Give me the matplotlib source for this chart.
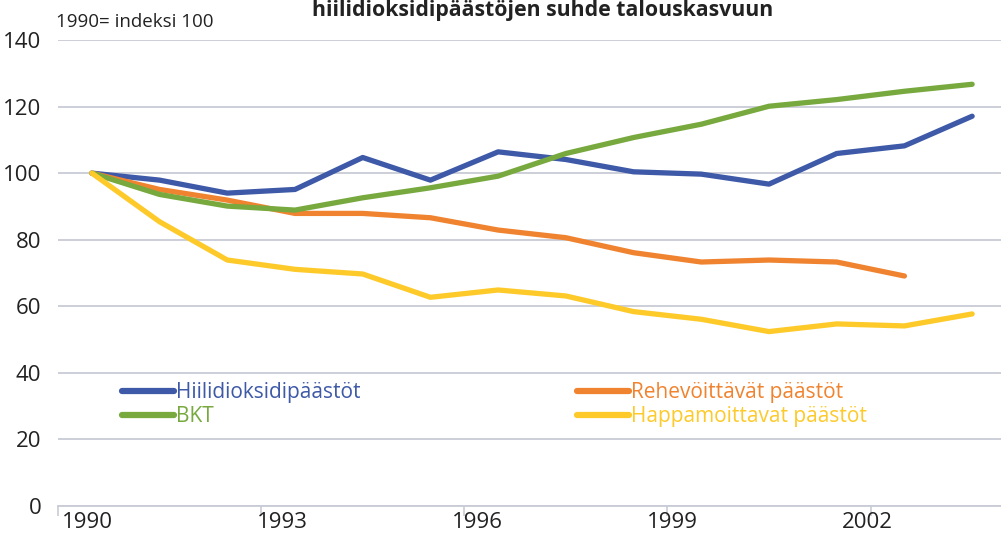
import matplotlib.pyplot as plt

plt.rcParams['font.family'] = ['Open Sans', 'DejaVu Sans']

# index 1990 = 100
years = list(range(1990, 2004))
hiilidioksidi = [100, 97.9, 94.0, 95.1, 104.7, 97.9, 106.4, 104.1, 100.4, 99.7, 96.7, 105.9, 108.2, 117.1]
rehevoittavat = [100, 95.1, 91.9, 87.9, 87.9, 86.6, 82.9, 80.6, 76.1, 73.3, 73.9, 73.3, 69.1]
bkt = [100, 93.6, 90.1, 88.9, 92.6, 95.6, 99.1, 105.9, 110.7, 114.7, 120.1, 122.1, 124.6, 126.7]
happamoittavat = [100, 85.4, 73.9, 71.1, 69.7, 62.7, 64.9, 63.1, 58.4, 56.1, 52.4, 54.7, 54.1, 57.7]

labels = ['Hiilidioksidipäästöt', 'BKT', 'Rehevöittävät päästöt', 'Happamoittavat päästöt']
colors = {'co2': '#3d59a7', 'bkt': '#77a93e', 'reh': '#f0832f', 'hap': '#fdca2a'}
year_labels = ['1990', '1993', '1996', '1999', '2002']

fig = plt.figure(figsize=(10.01, 5.35), dpi=100)
ax = fig.add_axes([58 / 1001, 29 / 535, 948 / 1001, 466 / 535])

lw = 3.8
idx = list(range(len(years)))
l_co2, = ax.plot(idx, hiilidioksidi, color=colors['co2'], lw=lw, solid_capstyle='round', solid_joinstyle='round')
l_reh, = ax.plot(idx[:len(rehevoittavat)], rehevoittavat, color=colors['reh'], lw=lw,
                 solid_capstyle='round', solid_joinstyle='round')
l_bkt, = ax.plot(idx, bkt, color=colors['bkt'], lw=lw, solid_capstyle='round', solid_joinstyle='round')
l_hap, = ax.plot(idx, happamoittavat, color=colors['hap'], lw=lw, solid_capstyle='round', solid_joinstyle='round')

ax.set_xlim(-0.5, len(years) - 0.5)
ax.set_ylim(0, 140)
ax.set_yticks(range(0, 141, 20))
ax.tick_params(axis='y', length=0, pad=12, labelsize=16, colors='#222222')

# ticks sit between categories; the year labels are spaced a little tighter
tick_pos = [i - 0.5 for i in range(0, len(years), 3)]
ax.set_xticks(tick_pos)
ax.set_xticklabels([])
ax.tick_params(axis='x', which='major', length=7, width=1.2, color='#c9ccd6')
ax.set_xticks([-0.06 + 2.88 * k for k in range(len(year_labels))], minor=True)
ax.set_xticklabels(year_labels, minor=True)
ax.tick_params(axis='x', which='minor', length=0, pad=4, labelsize=16, colors='#222222')

ax.grid(axis='y', color='#c9ccd6', lw=1.3)
ax.set_axisbelow(True)
for s in ['top', 'right', 'left']:
    ax.spines[s].set_visible(False)
ax.spines['bottom'].set_color('#c9ccd6')
ax.spines['bottom'].set_linewidth(1.3)

leg = fig.legend([l_co2, l_bkt, l_reh, l_hap], labels, ncol=2, loc='upper left',
                 bbox_to_anchor=(114 / 1001, 1 - 374 / 535), frameon=False,
                 fontsize=15, handlelength=2.5, handletextpad=0.1, columnspacing=10.35,
                 labelspacing=0.15, borderaxespad=0, labelcolor='linecolor')
for h in leg.get_lines():
    h.set_linewidth(4.5)
    h.set_solid_capstyle('round')

fig.text(56 / 1001, 1 - 27 / 535, '1990= indeksi 100', fontsize=13.5, color='#222222', va='baseline')
fig.text(543 / 1001, 1 - 16 / 535, 'hiilidioksidipäästöjen suhde talouskasvuun', fontsize=15.3,
         fontweight='bold', color='#222222', ha='center', va='baseline')

fig.savefig('out.png', dpi=100)
